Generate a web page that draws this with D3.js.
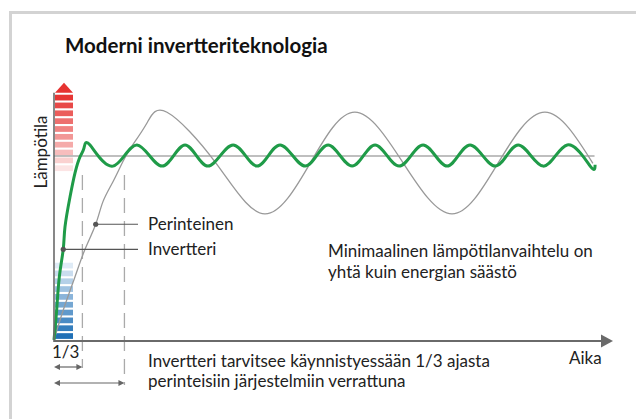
<!DOCTYPE html>
<html>
<head>
<meta charset="utf-8">
<script src="https://cdn.jsdelivr.net/npm/d3@7"></script>
<style>
  body { margin: 0; background: #fff; }
  text { font-family: Lato, "Open Sans", sans-serif; fill: #222; }
</style>
</head>
<body>
<svg width="636" height="419"></svg>
<script>
// readings: [time, temperature], target temperature = 100
var inverterCurve = [
  [0, 0], [0.49, 16.3], [0.97, 34.2], [1.70, 49.5], [2.01, 61.4], [2.93, 77.7],
  [3.85, 90.8], [4.76, 99.5], [5.49, 104.3], [6.6, 106],
  [10.8, 94.5], [15.2, 106], [19.8, 94.5], [24.0, 106], [28.2, 94.5], [32.8, 106],
  [37.2, 94.5], [41.4, 106], [46.0, 94.5], [50.2, 106], [54.6, 94.5], [58.8, 106],
  [63.2, 94.5], [67.6, 106], [72.0, 94.5], [76.2, 106], [80.8, 94.5], [85.0, 106],
  [89.6, 94.5], [94.0, 106], [98.2, 94.5], [99.1, 95.3]
];
var traditionalCurve = [
  [0, 0], [1.7, 16.3], [3.85, 34.4], [5.68, 49.3], [7.64, 62.9], [8.97, 75.2],
  [10.8, 86.0], [12.6, 96.9], [14.2, 105.1], [17.0, 117.8], [20.7, 123.8],
  [29.7, 96], [38.6, 68.5], [46.9, 96], [55.1, 123.8], [64.0, 96], [72.9, 68.5],
  [81.3, 96], [89.9, 123.8], [98.7, 96]
];
var targetTemp = 100;
var timeEnd = 99.0;

// times where each system reaches the target
var inverterReach = 5.2;
var traditionalReach = 12.9;

// callouts
var callouts = [
  { label: "Perinteinen", point: [7.64, 62.9] },
  { label: "Invertteri", point: [1.70, 49.3] }
];
var noteLines = ["Minimaalinen lämpötilanvaihtelu on", "yhtä kuin energian säästö"];
var footLines = ["Invertteri tarvitsee käynnistyessään 1/3 ajasta", "perinteisiin järjestelmiin verrattuna"];

// thermometer scale bars (temperature ranges), hot and cold
var hotBars = d3.range(10);
var coldBars = d3.range(10);
var hotRange = [133.3, 91.8];
var coldRange = [42.0, 0.6];

var svg = d3.select("svg");

var x = d3.scaleLinear().domain([0, 100]).range([54, 600]);
var y = d3.scaleLinear().domain([0, 100]).range([340, 156]);

// frame
svg.append("rect")
  .attr("x", 10.5).attr("y", 12.5)
  .attr("width", 700).attr("height", 500)
  .attr("fill", "none")
  .attr("stroke", "#d3d3d3")
  .attr("stroke-width", 3);

// title
svg.append("text")
  .attr("x", 65).attr("y", 53)
  .style("font-weight", "bold")
  .style("font-size", "20.5px")
  .style("fill", "#111")
  .text("Moderni invertteriteknologia");

// temperature bars
var hotBand = d3.scaleBand().domain(hotBars).range([y(hotRange[0]), y(hotRange[1])]).paddingInner(0.27);
var coldBand = d3.scaleBand().domain(coldBars).range([y(coldRange[0]), y(coldRange[1])]).paddingInner(0.27);
var hotColor = d3.scaleLinear().domain([0, 9]).range(["#e63634", "#fce4e4"]);
var coldColor = d3.scaleLinear().domain([0, 9]).range(["#dfebf6", "#2070b6"]);

svg.append("g").selectAll("rect")
  .data(hotBars)
  .enter().append("rect")
  .attr("x", 55).attr("width", 18)
  .attr("y", function(d) { return hotBand(d); })
  .attr("height", hotBand.bandwidth())
  .attr("fill", function(d) { return hotColor(d); });

svg.append("g").selectAll("rect")
  .data(coldBars)
  .enter().append("rect")
  .attr("x", 55).attr("width", 18)
  .attr("y", function(d) { return coldBand(d); })
  .attr("height", coldBand.bandwidth())
  .attr("fill", function(d) { return coldColor(d); });

// red arrow head on top of the bars
var topY = hotBand(0) - 2;
svg.append("path")
  .attr("d", "M55," + topY + "L73," + topY + "L64," + (topY - 10) + "Z")
  .attr("fill", "#e63331");

// target line
svg.append("line")
  .attr("x1", x(0)).attr("x2", x(timeEnd))
  .attr("y1", y(targetTemp)).attr("y2", y(targetTemp))
  .attr("stroke", "#aaa")
  .attr("stroke-width", 1.5);

// dashed reach markers
svg.append("line")
  .attr("x1", x(inverterReach)).attr("x2", x(inverterReach))
  .attr("y1", 175).attr("y2", 368)
  .attr("stroke", "#aaa").attr("stroke-width", 1.3)
  .attr("stroke-dasharray", "15,8");
svg.append("line")
  .attr("x1", x(traditionalReach)).attr("x2", x(traditionalReach))
  .attr("y1", 175).attr("y2", 385)
  .attr("stroke", "#aaa").attr("stroke-width", 1.3)
  .attr("stroke-dasharray", "15,8");

var line = d3.line()
  .x(function(d) { return x(d[0]); })
  .y(function(d) { return y(d[1]); })
  .curve(d3.curveNatural);

svg.append("path")
  .datum(traditionalCurve)
  .attr("d", line)
  .attr("fill", "none")
  .attr("stroke", "#999")
  .attr("stroke-width", 1.3);

svg.append("path")
  .datum(inverterCurve)
  .attr("d", line)
  .attr("fill", "none")
  .attr("stroke", "#1f9b48")
  .attr("stroke-width", 3);

// axes
var axisColor = "#6a6a6a";
svg.append("line")
  .attr("x1", x(0)).attr("x2", x(0))
  .attr("y1", y(0) + 2).attr("y2", topY)
  .attr("stroke", axisColor).attr("stroke-width", 1.6);
svg.append("line")
  .attr("x1", x(0)).attr("x2", 603)
  .attr("y1", y(0) + 1).attr("y2", y(0) + 1)
  .attr("stroke", axisColor).attr("stroke-width", 2);
svg.append("path")
  .attr("d", "M601," + (y(0) - 5.5) + "L613," + (y(0) + 1) + "L601," + (y(0) + 7.5) + "Z")
  .attr("fill", axisColor);

// axis labels
svg.append("text")
  .attr("transform", "translate(46.5,152) rotate(-90)")
  .attr("text-anchor", "middle")
  .style("font-size", "17px")
  .text("Lämpötila");
svg.append("text")
  .attr("x", 569).attr("y", 364)
  .style("font-size", "17px")
  .text("Aika");
svg.append("text")
  .attr("x", 52).attr("y", 358)
  .style("font-size", "17px")
  .text("1/3");

// callouts
var labelX = 148;
callouts.forEach(function(c) {
  var cy = y(c.point[1]);
  svg.append("line")
    .attr("x1", x(c.point[0])).attr("x2", 138)
    .attr("y1", cy).attr("y2", cy)
    .attr("stroke", "#555").attr("stroke-width", 1.2);
  svg.append("circle")
    .attr("cx", x(c.point[0])).attr("cy", cy).attr("r", 2.6)
    .attr("fill", "#555");
  svg.append("text")
    .attr("x", labelX).attr("y", cy + 5.5)
    .style("font-size", "17px")
    .text(c.label);
});

// notes
svg.append("g").selectAll("text")
  .data(noteLines)
  .enter().append("text")
  .attr("x", 328)
  .attr("y", function(d, i) { return 256.5 + i * 21; })
  .style("font-size", "17px")
  .text(function(d) { return d; });

svg.append("g").selectAll("text")
  .data(footLines)
  .enter().append("text")
  .attr("x", 148)
  .attr("y", function(d, i) { return 366.5 + i * 20; })
  .style("font-size", "17px")
  .text(function(d) { return d; });

// time span arrows
function spanArrow(t, yy) {
  var x0 = x(0), x1 = x(t);
  svg.append("line")
    .attr("x1", x0 + 2).attr("x2", x1 - 2)
    .attr("y1", yy).attr("y2", yy)
    .attr("stroke", "#666").attr("stroke-width", 1.2);
  svg.append("path")
    .attr("d", "M" + x0 + "," + yy + "l6,-3l0,6z")
    .attr("fill", "#666");
  svg.append("path")
    .attr("d", "M" + x1 + "," + yy + "l-6,-3l0,6z")
    .attr("fill", "#666");
}
spanArrow(inverterReach, 367);
spanArrow(traditionalReach, 383);
</script>
</body>
</html>
